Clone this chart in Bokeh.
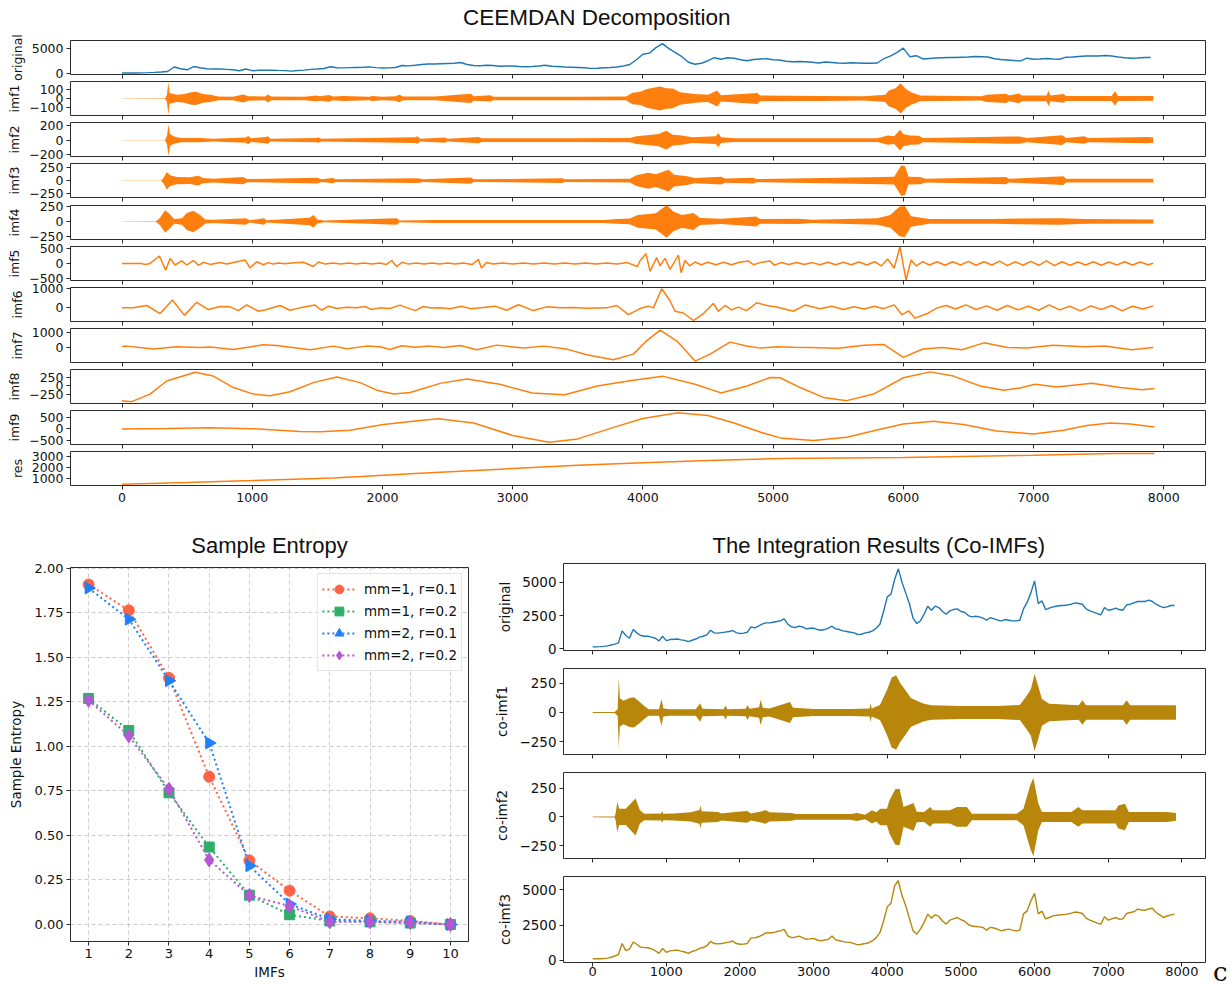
import math
from bokeh.plotting import figure
from bokeh.layouts import column, row
from bokeh.models import (Range1d, FixedTicker, CustomJSTickFormatter,
                          PrintfTickFormatter, Legend, LegendItem, Div)
from bokeh.embed import file_html
from bokeh.resources import INLINE

# ---------------------------------------------------------------- data
x_ticks = [0, 1000, 2000, 3000, 4000, 5000, 6000, 7000, 8000]
sample_step = 50  # spacing of the read-off samples of the two price-like series

original = [
    150, 155, 170, 190, 230, 290, 360, 450, 1350, 1000,
    800, 1450, 1200, 1000, 950, 950, 880, 800, 600, 950,
    620, 700, 720, 740, 680, 640, 540, 650, 740, 880,
    950, 1050, 1400, 1200, 1180, 1220, 1260, 1300, 1380, 1220,
    1150, 1180, 1250, 1650, 1580, 1700, 1850, 1950, 1950, 2000,
    2050, 2100, 2250, 1850, 1650, 1600, 1700, 1650, 1500, 1550,
    1550, 1450, 1400, 1450, 1550, 1700, 1500, 1450, 1350, 1300,
    1250, 1200, 1080, 1100, 1200, 1250, 1350, 1550, 1850, 2800,
    3900, 4100, 5200, 6000, 5000, 4200, 3400, 2300, 1900, 2100,
    2600, 3200, 2900, 3200, 3100, 2800, 2600, 2850, 2950, 3000,
    2800, 2750, 2500, 2400, 2450, 2400, 2300, 2150, 2350, 2250,
    2150, 2100, 2200, 2150, 2100, 2100, 2150, 3000, 3500, 4200,
    5100, 3400, 3600, 2950, 3050, 3150, 3200, 3250, 3250, 3300,
    3350, 3450, 3400, 3350, 3000, 2850, 2750, 2650, 2550, 3100,
    2900, 2950, 3050, 2950, 2900, 3300, 3350, 3450, 3550, 3550,
    3550, 3650, 3550, 3350, 3200, 3100, 3150, 3250, 3250,
]

co_imf3 = [
    120, 120, 125, 140, 170, 230, 320, 420, 1200, 700,
    800, 1300, 1150, 950, 920, 900, 820, 700, 500, 850,
    580, 680, 720, 730, 660, 600, 500, 640, 720, 860,
    920, 1040, 1350, 1200, 1180, 1200, 1250, 1300, 1380, 1200,
    1150, 1160, 1200, 1600, 1600, 1680, 1800, 1950, 1970, 1970,
    2050, 2100, 2200, 1750, 1620, 1650, 1730, 1620, 1500, 1530,
    1570, 1450, 1390, 1450, 1500, 1730, 1460, 1400, 1340, 1300,
    1270, 1200, 1110, 1150, 1200, 1260, 1400, 1620, 1970, 2800,
    3800, 4050, 5300, 5650, 4600, 3900, 3000, 2100, 1870, 2220,
    2700, 3280, 3000, 3235, 3120, 2800, 2575, 2855, 2950, 3045,
    2900, 2780, 2550, 2440, 2410, 2380, 2340, 2150, 2350, 2300,
    2200, 2100, 2180, 2220, 2150, 2100, 2150, 3300, 3515, 4225,
    4750, 3300, 3500, 2950, 3045, 3160, 3200, 3235, 3250, 3300,
    3350, 3430, 3400, 3330, 3000, 2855, 2760, 2650, 2575, 3100,
    2855, 2950, 3045, 2925, 2950, 3330, 3400, 3450, 3640, 3580,
    3560, 3650, 3700, 3400, 3235, 3045, 3150, 3235, 3280,
]

# envelopes (sample index, half-amplitude) of the fast oscillating modes
imf1_env = [(0, 2), (330, 3), (345, 40), (355, 185), (365, 60), (420, 40), (480, 50), (530, 70),
            (570, 75), (620, 50), (680, 40), (740, 22), (850, 20), (930, 45), (970, 25), (1100, 22),
            (1120, 45), (1145, 22), (1400, 20), (1490, 32), (1520, 25), (1590, 38), (1620, 22),
            (1700, 28), (1900, 20), (1920, 28), (2000, 20), (2100, 25), (2130, 42), (2160, 22),
            (2400, 22), (2680, 52), (2700, 25), (2830, 35), (2850, 20), (3500, 20), (3870, 22),
            (3920, 65), (3980, 75), (4030, 105), (4080, 120), (4130, 135), (4180, 115), (4230, 110),
            (4285, 70), (4400, 50), (4500, 40), (4570, 90), (4600, 35), (4880, 62), (4900, 32),
            (5360, 28), (5700, 24), (5860, 40), (5890, 90), (5940, 115), (5980, 170), (6020, 105),
            (6060, 70), (6130, 32), (6600, 24), (6640, 40), (6790, 52), (6810, 32), (6890, 55),
            (6910, 32), (7100, 32), (7115, 85), (7130, 32), (7230, 50), (7250, 28), (7600, 28),
            (7625, 80), (7650, 28), (7920, 26)]
imf2_env = [(0, 2), (330, 3), (345, 60), (356, 215), (370, 80), (400, 50), (450, 30), (600, 30),
            (700, 20), (950, 35), (970, 58), (990, 25), (1100, 45), (1120, 52), (1140, 20),
            (1490, 30), (1510, 38), (1530, 18), (2250, 40), (2270, 52), (2290, 20), (2480, 35),
            (2500, 20), (2740, 42), (2760, 25), (3450, 25), (3900, 30), (3950, 55), (4050, 70),
            (4120, 85), (4180, 130), (4230, 75), (4300, 65), (4380, 40), (4560, 55), (4580, 100),
            (4600, 40), (4700, 27), (5800, 25), (5880, 65), (5930, 55), (5975, 145), (6000, 85),
            (6050, 65), (6120, 60), (6150, 30), (6630, 45), (6800, 50), (6890, 50), (6950, 30),
            (7220, 68), (7250, 30), (7390, 52), (7420, 30), (7880, 42), (7920, 36)]
imf3_env = [(0, 2), (300, 3), (320, 60), (343, 170), (370, 105), (420, 70), (520, 65), (586, 95),
            (620, 50), (700, 38), (930, 70), (960, 30), (1500, 55), (1530, 25), (1620, 50),
            (1640, 25), (2240, 45), (2290, 40), (2310, 25), (2680, 60), (2700, 25), (3380, 45),
            (3400, 25), (3900, 35), (3950, 105), (4040, 155), (4100, 125), (4196, 210), (4240, 115),
            (4340, 85), (4400, 50), (4600, 75), (4630, 40), (4850, 55), (4870, 30), (5840, 70),
            (5930, 75), (5985, 300), (6013, 280), (6040, 75), (6130, 70), (6170, 35), (6790, 70),
            (6810, 35), (7230, 85), (7250, 35), (7920, 35)]
imf4_env = [(0, 3), (260, 5), (290, 60), (330, 190), (360, 140), (400, 40), (460, 55), (497, 145),
            (548, 185), (600, 110), (640, 35), (700, 28), (950, 55), (980, 20), (1090, 55),
            (1110, 20), (1440, 65), (1470, 110), (1500, 35), (1550, 16), (2110, 55), (2130, 16),
            (2400, 25), (3700, 25), (3800, 40), (3900, 50), (3960, 110), (4100, 140), (4183, 280),
            (4234, 170), (4300, 110), (4388, 145), (4440, 60), (4600, 45), (4870, 85), (4900, 40),
            (5200, 45), (5300, 28), (5800, 55), (5900, 110), (5970, 250), (6010, 270), (6060, 90),
            (6200, 40), (6700, 40), (6900, 50), (7200, 55), (7400, 40), (7920, 35)]
co_imf1_env = [(0, 4), (300, 5), (340, 30), (355, 300), (370, 120), (420, 100), (500, 125),
               (560, 130), (640, 90), (700, 55), (760, 28), (900, 28), (935, 115), (960, 35),
               (1050, 28), (1400, 28), (1460, 80), (1490, 32), (1780, 28), (1800, 60), (1830, 28),
               (2080, 32), (2100, 65), (2130, 32), (2260, 45), (2280, 110), (2310, 40), (2400, 35),
               (2680, 90), (2720, 40), (3000, 30), (3500, 30), (3760, 35), (3770, 80), (3790, 35),
               (3900, 65), (3950, 130), (4000, 200), (4060, 300), (4120, 320), (4180, 250),
               (4250, 190), (4320, 125), (4400, 100), (4500, 75), (4600, 62), (5000, 55),
               (5500, 55), (5800, 65), (5900, 150), (5950, 200), (6000, 330), (6040, 250),
               (6100, 115), (6200, 75), (6600, 62), (6650, 105), (6700, 62), (7200, 62),
               (7250, 105), (7300, 62), (7920, 62)]
co_imf2_env = [(0, 3), (300, 4), (312, 30), (334, 130), (360, 70), (450, 70), (538, 131), (583, 160),
               (640, 60), (700, 28), (930, 30), (944, 51), (960, 28), (1100, 30), (1330, 40),
               (1450, 60), (1464, 100), (1480, 50), (1700, 43), (1750, 30), (1900, 40), (2097, 51),
               (2150, 30), (2300, 50), (2346, 60), (2400, 40), (2707, 34), (2750, 25), (3500, 25),
               (3589, 35), (3700, 20), (3792, 57), (3850, 40), (3905, 71), (3996, 71), (4030, 145),
               (4109, 240), (4167, 245), (4222, 86), (4357, 120), (4400, 45), (4500, 43), (4583, 86),
               (4620, 57), (4850, 57), (4945, 86), (5080, 86), (5150, 28), (5760, 28), (5849, 71),
               (5939, 270), (5984, 340), (6052, 114), (6100, 43), (6500, 43), (6595, 86),
               (6650, 57), (7100, 57), (7137, 100), (7227, 115), (7280, 43), (7800, 43), (7920, 34)]

# turning points (sample index, value) of the slower modes
imf5_pts = [(0, 0), (150, 0), (170, -30), (210, -10), (287, 250), (335, -227), (369, 170), (407, -50),
            (458, 90), (497, -50), (548, 100), (586, -60), (625, 40), (676, -30), (753, 30),
            (804, -20), (881, 60), (945, 120), (983, -150), (1034, 60), (1085, -40), (1124, 30),
            (1160, -20), (1200, 15), (1250, -10), (1300, 15), (1393, 40), (1469, -100), (1508, 50),
            (1560, -20), (1620, 20), (1680, -15), (1740, 20), (1800, -15), (1860, 20), (1920, -15),
            (1980, 20), (2030, -30), (2071, 100), (2109, -100), (2150, 40), (2200, -20), (2260, 20),
            (2320, -15), (2380, 20), (2440, -15), (2500, 20), (2560, -15), (2620, 20), (2690, -30),
            (2737, 136), (2760, -148), (2800, 30), (2850, -20), (2920, 15), (3000, -15), (3080, 15),
            (3160, -15), (3240, 15), (3320, -15), (3400, 15), (3480, -15), (3560, 15), (3640, -15),
            (3720, 20), (3800, -20), (3880, 30), (3958, -100), (3978, 90), (4024, 330), (4055, -261),
            (4106, 200), (4132, -80), (4170, 170), (4209, -200), (4273, 284), (4293, -307),
            (4324, 100), (4360, -80), (4400, 50), (4450, -40), (4500, 40), (4560, -40), (4620, 40),
            (4680, -40), (4740, 40), (4810, 80), (4850, -40), (4900, 30), (4977, 80), (5010, -60),
            (5060, 30), (5120, -30), (5180, 30), (5240, -30), (5300, 30), (5360, -40), (5420, 40),
            (5480, -40), (5540, 40), (5600, -40), (5660, 50), (5720, -50), (5780, 60), (5830, -80),
            (5880, 150), (5930, -150), (5975, 560), (6021, -560), (6060, 120), (6100, -80),
            (6150, 60), (6200, -50), (6260, 60), (6320, -60), (6380, 60), (6440, -50), (6500, 70),
            (6560, -60), (6620, 60), (6680, -50), (6740, 80), (6800, -70), (6860, 60), (6920, -60),
            (6980, 70), (7040, -60), (7100, 90), (7160, -70), (7220, 60), (7280, -60), (7340, 50),
            (7400, -50), (7460, 60), (7520, -60), (7580, 50), (7640, -50), (7700, 60), (7760, -50),
            (7820, 50), (7880, -40), (7920, 10)]
imf6_pts = [(0, 0), (87, 0), (189, 120), (292, -290), (387, 400), (479, -380), (573, 280), (663, -86),
            (753, 70), (829, 50), (893, -140), (957, 155), (1047, -170), (1111, -86), (1213, 120),
            (1290, -120), (1367, 0), (1482, 140), (1533, -120), (1585, 86), (1649, -35), (1726, 35),
            (1802, 0), (1866, 70), (1917, -86), (1981, 0), (2058, -35), (2135, 140), (2250, -138),
            (2314, 70), (2378, -10), (2442, 10), (2519, -50), (2609, 86), (2673, -40), (2775, 20),
            (2865, 86), (2954, -120), (3044, 155), (3159, -138), (3261, 50), (3364, 0), (3466, 20),
            (3569, -20), (3722, 0), (3799, 120), (3889, -345), (3978, -35), (4042, 86), (4081, 0),
            (4145, 965), (4209, 345), (4247, -172), (4311, -259), (4388, -640), (4465, -290),
            (4541, 224), (4580, -172), (4631, 120), (4682, -100), (4733, 35), (4797, -138),
            (4874, 260), (4951, 120), (5028, 40), (5156, -172), (5245, 140), (5361, -50), (5450, 80),
            (5540, -80), (5620, 60), (5700, -60), (5780, 80), (5850, -40), (5930, 150), (5990, -350),
            (6040, -150), (6090, -520), (6180, -300), (6260, 0), (6330, 120), (6400, -60),
            (6480, 150), (6560, -80), (6640, 100), (6720, -120), (6800, 120), (6880, -100),
            (6960, 80), (7040, -120), (7120, 150), (7200, -100), (7280, 80), (7360, -150),
            (7440, 100), (7520, -80), (7600, 120), (7680, -150), (7760, 80), (7840, -60), (7920, 100)]
imf7_pts = [(0, 65), (36, 87), (241, -108), (420, 43), (599, 0), (676, 30), (855, -130), (1085, 174),
            (1188, 130), (1444, -152), (1623, 87), (1725, -87), (1879, 87), (1981, 40), (2058, -130),
            (2148, 108), (2250, 20), (2365, 87), (2468, 0), (2596, 130), (2724, -152), (2877, 152),
            (3082, -43), (3236, 87), (3415, -108), (3569, -477), (3773, -803), (3927, -434),
            (4029, 434), (4132, 1128), (4260, 434), (4401, -890), (4516, -434), (4669, 347),
            (4797, 100), (4900, -43), (5028, 43), (5156, 20), (5284, 0), (5500, -50), (5700, 150),
            (5850, 200), (6000, -650), (6150, -100), (6300, 0), (6450, -150), (6620, 300), (6800, 0),
            (6950, -30), (7150, 150), (7400, 50), (7550, 100), (7750, -150), (7920, 0)]
imf8_pts = [(0, -421), (74, -450), (215, -234), (343, 140), (561, 393), (701, 281), (855, -47),
            (1009, -234), (1137, -281), (1290, -168), (1469, 94), (1649, 253), (1828, 94),
            (1956, -122), (2084, -234), (2212, -187), (2450, 80), (2650, 200), (2900, 50),
            (3150, -200), (3400, -250), (3650, 0), (3900, 150), (4150, 280), (4400, 50),
            (4600, -200), (4800, 0), (4977, 240), (5054, 234), (5208, -47), (5387, -328),
            (5566, -421), (5771, -234), (6001, 234), (6206, 402), (6385, 281), (6590, 0),
            (6769, -122), (6897, -60), (7012, 47), (7179, -28), (7448, 75), (7665, -47),
            (7832, -112), (7929, -75)]
imf9_pts = [(0, -14), (343, 10), (676, 42), (1009, 0), (1367, -126), (1521, -140), (1751, -70),
            (2007, 182), (2289, 364), (2430, 440), (2700, 250), (3000, -300), (3280, -600),
            (3500, -450), (3800, 100), (4000, 450), (4270, 700), (4500, 580), (4700, 250),
            (4900, -150), (5054, -406), (5310, -518), (5566, -378), (5822, -28), (6001, 210),
            (6232, 322), (6462, 182), (6718, -98), (7000, -238), (7230, -70), (7410, 140),
            (7588, 252), (7742, 210), (7929, 70)]
res_pts = [(0, 446), (500, 600), (1000, 780), (1623, 1030), (2289, 1460), (3000, 1900),
           (3500, 2200), (4000, 2450), (4500, 2650), (5054, 2846), (6001, 2938), (7000, 3150),
           (7614, 3310), (7929, 3310)]

# sample entropy
imf_index = [1, 2, 3, 4, 5, 6, 7, 8, 9, 10]
se_m1_r01 = [1.91, 1.765, 1.385, 0.83, 0.36, 0.19, 0.045, 0.035, 0.02, 0.0]
se_m1_r02 = [1.27, 1.09, 0.74, 0.435, 0.165, 0.055, 0.02, 0.015, 0.008, 0.0]
se_m2_r01 = [1.89, 1.715, 1.37, 1.02, 0.33, 0.115, 0.03, 0.02, 0.015, 0.0]
se_m2_r02 = [1.26, 1.06, 0.76, 0.363, 0.163, 0.103, 0.015, 0.015, 0.01, 0.0]
se_labels = ["mm=1, r=0.1", "mm=1, r=0.2", "mm=2, r=0.1", "mm=2, r=0.2"]
se_ticks = [0.0, 0.25, 0.5, 0.75, 1.0, 1.25, 1.5, 1.75, 2.0]

# ---------------------------------------------------------------- style
BLUE = "#1f77b4"
ORANGE = "#ff7f0e"
GOLD = "#b8860b"
SPINE = "#2b2b2b"
TXT = "#111111"
TICKFONT = "DejaVu Sans"
TITLEFONT = "Liberation Sans"
MINUS = CustomJSTickFormatter(code="return String(tick).replace('-', '\u2212');")

xs_series = [i * sample_step for i in range(len(original))]


def split(pairs):
    return [a for a, _ in pairs], [b for _, b in pairs]


def base_fig(width, height, xr, yr, left, right, top, bottom, margin=None):
    kw = {}
    if margin is not None:
        kw["margin"] = margin
    p = figure(width=width, height=height, x_range=xr, y_range=yr,
               output_backend="svg", toolbar_location=None,
               min_border_left=left, min_border_right=right,
               min_border_top=top, min_border_bottom=bottom, **kw)
    p.grid.visible = False
    p.outline_line_color = SPINE
    p.outline_line_width = 1
    p.background_fill_color = "white"
    p.border_fill_color = None
    for ax in (p.xaxis[0], p.yaxis[0]):
        ax.axis_line_color = None
        ax.major_tick_out = 4
        ax.major_tick_in = 0
        ax.minor_tick_out = 0
        ax.minor_tick_in = 0
        ax.major_tick_line_color = SPINE
        ax.major_label_text_font = TICKFONT
        ax.major_label_text_color = TXT
        ax.axis_label_text_font = TICKFONT
        ax.axis_label_text_font_style = "normal"
        ax.axis_label_text_color = TXT
    return p


def style_title(p, text, size, align, offset, standoff):
    p.title.text = text
    p.title.align = align
    p.title.offset = offset
    p.title.text_font = TITLEFONT
    p.title.text_font_size = size
    p.title.text_font_style = "normal"
    p.title.text_color = TXT
    p.title.standoff = standoff


# ---------------------------------------------------------------- top block
XR_TOP = Range1d(-396, 8321)
TOP_W = 70 + 1135 + 10
PANEL_TOP = 9      # room above each frame for tick labels that stick out
PANEL_BOT = 12     # room below each frame (ticks + overhanging labels)

top_title = Div(text="CEEMDAN Decomposition", width=300, height=26, margin=(5, 0, 0, 463),
                styles={"font-family": TITLEFONT, "font-size": "22.5px", "line-height": "26px",
                        "color": TXT, "white-space": "nowrap"})

top_specs = [
    # name, y-range, y-ticks
    ("original", (-138, 6620), [0, 5000]),
    ("imf1", (-192, 190), [-100, 0, 100]),
    ("imf2", (-228, 245), [-200, 0, 200]),
    ("imf3", (-327, 333), [-250, 0, 250]),
    ("imf4", (-310, 273), [-250, 0, 250]),
    ("imf5", (-568, 568), [-500, 0, 500]),
    ("imf6", (-690, 1030), [0, 1000]),
    ("imf7", (-980, 1235), [0, 1000]),
    ("imf8", (-503, 470), [-250, 0, 250]),
    ("imf9", (-697, 800), [-500, 0, 500]),
    ("res", (324, 3490), [1000, 2000, 3000]),
]
top_bands = {"imf1": imf1_env, "imf2": imf2_env, "imf3": imf3_env, "imf4": imf4_env}
top_lines = {"imf5": imf5_pts, "imf6": imf6_pts, "imf7": imf7_pts, "imf8": imf8_pts,
             "imf9": imf9_pts, "res": res_pts}

top_figs = []
for i, (name, (y0, y1), yt) in enumerate(top_specs):
    first = i == 0
    last = i == len(top_specs) - 1
    tb = PANEL_TOP
    bb = 24 if last else PANEL_BOT
    pitch = 42 if name == "imf4" else 41
    margin = None if first else (-(PANEL_TOP + 34 + PANEL_BOT - pitch), 0, 0, 0)
    p = base_fig(TOP_W, tb + 34 + bb, XR_TOP, Range1d(y0, y1), 70, 10, tb, bb, margin)
    p.yaxis.ticker = FixedTicker(ticks=yt)
    p.yaxis.formatter = MINUS
    p.yaxis.axis_label = name
    p.yaxis.axis_label_text_font_size = "12.5px"
    p.yaxis.axis_label_standoff = 4
    p.yaxis.major_label_standoff = 3
    p.yaxis.major_label_text_font_size = "12.5px"
    p.xaxis.ticker = FixedTicker(ticks=x_ticks)
    p.xaxis.major_label_text_font_size = "12.5px"
    p.xaxis.major_label_standoff = 3
    if not last:
        p.xaxis.major_label_text_color = None
    if name == "original":
        p.line(xs_series, original, line_color=BLUE, line_width=1.4)
    elif name in top_bands:
        bx, ba = split(top_bands[name])
        p.varea(x=bx, y1=[-a for a in ba], y2=ba, fill_color=ORANGE)
    else:
        lx, ly = split(top_lines[name])
        p.line(lx, ly, line_color=ORANGE, line_width=1.5)
    top_figs.append(p)

# ---------------------------------------------------------------- sample entropy
pe = base_fig(488, 473, Range1d(0.55, 10.45), Range1d(-0.0955, 2.0055), 70, 20, 58, 41)
pe.border_fill_color = "white"
pe.grid.visible = True
pe.xgrid.ticker = FixedTicker(ticks=imf_index)
pe.ygrid.ticker = FixedTicker(ticks=se_ticks)
pe.grid.grid_line_color = "#b0b0b0"
pe.grid.grid_line_dash = "4 3"
pe.grid.grid_line_alpha = 0.8
pe.grid.grid_line_width = 0.8
pe.xaxis.ticker = FixedTicker(ticks=imf_index)
pe.yaxis.ticker = FixedTicker(ticks=se_ticks)
pe.yaxis.formatter = PrintfTickFormatter(format="%.2f")
pe.xaxis.major_label_text_font_size = "13px"
pe.yaxis.major_label_text_font_size = "13px"
pe.xaxis.major_label_standoff = 3
pe.yaxis.major_label_standoff = 3
pe.xaxis.axis_label = "IMFs"
pe.yaxis.axis_label = "Sample Entropy"
pe.xaxis.axis_label_text_font_size = "13.5px"
pe.yaxis.axis_label_text_font_size = "13.5px"
pe.xaxis.axis_label_standoff = 3
pe.yaxis.axis_label_standoff = 8
style_title(pe, "Sample Entropy", "22px", "center", 0, 20)

se_series = [
    (se_m1_r01, "#ff6347", "circle", 11, 0.0),
    (se_m1_r02, "#2eaf68", "square", 10, 0.0),
    (se_m2_r01, "#1e80ff", "triangle", 12, -math.pi / 2),
    (se_m2_r02, "#b556d4", "diamond", 14, 0.0),
]
items = []
for (vals, col, mk, sz, ang), lab in zip(se_series, se_labels):
    lr = pe.line(imf_index, vals, line_color=col, line_width=2, line_dash="2 3")
    sr = pe.scatter(imf_index, vals, marker=mk, size=sz, angle=ang,
                    fill_color=col, line_color=col)
    items.append(LegendItem(label=lab, renderers=[lr, sr]))
leg = Legend(items=items, location="top_right")
leg.margin = 6
leg.padding = 4
leg.spacing = -1
leg.glyph_width = 34
leg.glyph_height = 22
leg.label_height = 20
leg.label_standoff = 8
leg.label_text_font = TICKFONT
leg.label_text_font_size = "13.5px"
leg.label_text_color = TXT
leg.border_line_color = "#cccccc"
leg.background_fill_alpha = 0.8
pe.add_layout(leg)

# ---------------------------------------------------------------- co-IMFs
XR_R = Range1d(-396, 8321)
R_W = 75 + 642 + 8
right_specs = [
    # name, y-range, y-ticks, top border, frame height, bottom border
    ("original", (-120, 6400), [0, 2500, 5000], 54, 87, 17),
    ("co-imf1", (-361, 378), [-250, 0, 250], 1, 86, 17),
    ("co-imf2", (-360, 385), [-250, 0, 250], 1, 86, 17),
    ("co-imf3", (-142, 5949), [0, 2500, 5000], 1, 86, 20),
]
right_figs = []
for i, (name, (y0, y1), yt, tb, fh, bb) in enumerate(right_specs):
    last = i == len(right_specs) - 1
    p = base_fig(R_W, tb + fh + bb, XR_R, Range1d(y0, y1), 75, 8, tb, bb)
    p.border_fill_color = "white"
    p.yaxis.ticker = FixedTicker(ticks=yt)
    p.yaxis.formatter = MINUS
    p.yaxis.axis_label = name
    p.yaxis.axis_label_text_font_size = "13.5px"
    p.yaxis.axis_label_standoff = 6
    p.yaxis.major_label_standoff = 3
    p.yaxis.major_label_text_font_size = "13.5px"
    p.xaxis.ticker = FixedTicker(ticks=x_ticks)
    p.xaxis.major_label_text_font_size = "13px"
    p.xaxis.major_label_standoff = 0
    if not last:
        p.xaxis.major_label_text_color = None
    if name == "original":
        p.line(xs_series, original, line_color=BLUE, line_width=1.4)
        style_title(p, "The Integration Results (Co-IMFs)", "22px", "left", 149, 12)
    elif name == "co-imf1":
        bx, ba = split(co_imf1_env)
        p.varea(x=bx, y1=[-a for a in ba], y2=ba, fill_color=GOLD)
    elif name == "co-imf2":
        bx, ba = split(co_imf2_env)
        p.varea(x=bx, y1=[-a for a in ba], y2=ba, fill_color=GOLD)
    else:
        p.line(xs_series, co_imf3, line_color=GOLD, line_width=1.4)
    right_figs.append(p)

panel_letter = Div(text="c", width=18, height=32, margin=(448, 0, 0, 0),
                   styles={"font-family": "DejaVu Serif", "font-size": "26px",
                           "line-height": "30px", "color": TXT})

layout = column(top_title, column(*top_figs), row(pe, column(*right_figs), panel_letter))

with open("out.html", "w") as f:
    f.write(file_html(layout, INLINE, "CEEMDAN"))
